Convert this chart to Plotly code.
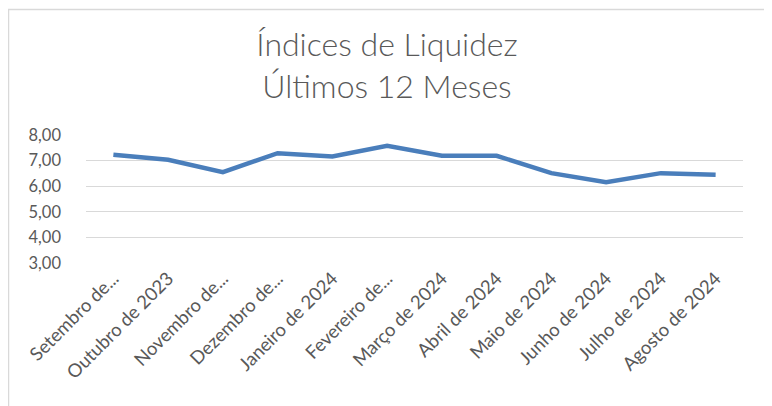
import plotly.graph_objects as go

categories = ["Setembro de 2023", "Outubro de 2023", "Novembro de 2023", "Dezembro de 2023",
              "Janeiro de 2024", "Fevereiro de 2024", "Março de 2024", "Abril de 2024",
              "Maio de 2024", "Junho de 2024", "Julho de 2024", "Agosto de 2024"]
tick_labels = ["Setembro de...", "Outubro de 2023", "Novembro de...", "Dezembro de...",
               "Janeiro de 2024", "Fevereiro de...", "Março de 2024", "Abril de 2024",
               "Maio de 2024", "Junho de 2024", "Julho de 2024", "Agosto de 2024"]
liquidez = [7.23, 7.03, 6.55, 7.29, 7.16, 7.58, 7.19, 7.19, 6.51, 6.16, 6.51, 6.45]
y_ticks = [3, 4, 5, 6, 7, 8]

# the page body has an 8px default margin, so the figure starts at page (8, 8)
OFF = 8
W, H = 772 - OFF, 406 - OFF
ml, mr, mt, mb = 86 - OFF, 29, 135 - OFF, 143
pw, ph = W - ml - mr, H - mt - mb

def px_x(p):
    return (p - OFF - ml) / pw

def px_y(p):
    return (H - mb - (p - OFF)) / ph

fig = go.Figure()
fig.add_trace(go.Scatter(
    x=categories, y=liquidez, mode="lines",
    line=dict(color="#4A7EBB", width=4.5),
    hoverinfo="skip", showlegend=False,
))

font_family = "Lato, Open Sans, sans-serif"
fig.update_layout(
    width=W, height=H, autosize=False,
    margin=dict(l=ml, r=mr, t=mt, b=mb, autoexpand=False),
    paper_bgcolor="white", plot_bgcolor="white",
    separators=",.",
    title=dict(
        text="Índices de Liquidez<br>Últimos 12 Meses",
        x=(387 - OFF) / W, xref="container", xanchor="center",
        y=1 - (56 - OFF) / H, yref="container", yanchor="middle",
        font=dict(family=font_family, size=32, color="#595959", weight=300),
    ),
    xaxis=dict(
        type="category", range=[-0.5, 11.5], automargin=False,
        tickmode="array", tickvals=categories, ticktext=tick_labels,
        tickangle=-45, showgrid=False, showline=False, zeroline=False,
        tickfont=dict(family=font_family, size=18.5, color="#595959"),
        ticks="", fixedrange=True,
    ),
    yaxis=dict(
        range=[3, 8], tickmode="array", tickvals=y_ticks, tickformat=".2f",
        automargin=False,
        showgrid=True, gridcolor="#D9D9D9", gridwidth=1,
        showline=False, zeroline=False, ticks="",
        tickfont=dict(family=font_family, size=16.5, color="#595959"),
        ticklabelstandoff=24, fixedrange=True,
    ),
    shapes=[dict(
        type="rect", xref="paper", yref="paper",
        x0=px_x(8.5), x1=px_x(768), y0=px_y(412), y1=px_y(9.5),
        line=dict(color="#D9D9D9", width=1.5), fillcolor="rgba(0,0,0,0)", layer="above",
    )],
)

fig.write_html("out.html", config={"displayModeBar": False})
